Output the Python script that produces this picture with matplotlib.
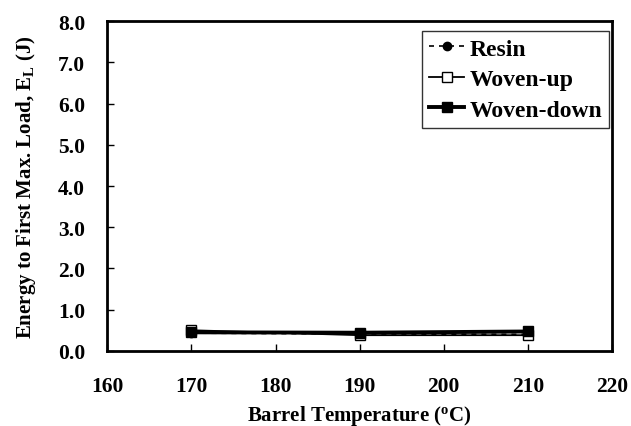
import matplotlib
matplotlib.use("Agg")
import matplotlib.pyplot as plt

# barrel temperature (deg C)
temps = [170, 190, 210]

# energy to first max load (J)
resin = [0.43, 0.41, 0.40]
woven_up = [0.50, 0.38, 0.38]
woven_down = [0.45, 0.44, 0.47]

x_ticks = [160, 170, 180, 190, 200, 210, 220]
y_ticks = [0.0, 1.0, 2.0, 3.0, 4.0, 5.0, 6.0, 7.0, 8.0]

plt.rcParams["font.family"] = ["Liberation Serif", "DejaVu Serif"]
plt.rcParams["font.weight"] = "bold"
plt.rcParams["mathtext.fontset"] = "custom"
plt.rcParams["mathtext.rm"] = "Liberation Serif:bold"
plt.rcParams["mathtext.it"] = "Liberation Serif:bold"

fig = plt.figure(figsize=(6.31, 4.27), dpi=100)
ax = fig.add_axes([0.170, 0.176, 0.800, 0.772])

ax.plot(temps, resin, linestyle=(0, (3, 3)), color="black", linewidth=1.2,
        marker="o", markersize=6, markerfacecolor="black", label="Resin")
ax.plot(temps, woven_up, linestyle="-", color="black", linewidth=1.3,
        marker="s", markersize=7, markerfacecolor="white", label="Woven-up")
ax.plot(temps, woven_down, linestyle="-", color="black", linewidth=2.8,
        marker="s", markersize=7, markerfacecolor="black", label="Woven-down")

ax.set_xlim(160, 220)
ax.set_ylim(0, 8)
ax.set_xticks(x_ticks)
ax.set_yticks(y_ticks)
ax.set_xticklabels([str(t) for t in x_ticks], fontsize=15.5, fontweight="bold")
ax.set_yticklabels([f"{t:.1f}" for t in y_ticks], fontsize=15.5, fontweight="bold")
ax.tick_params(direction="in", length=5, width=1)
ax.tick_params(axis="x", pad=18)
ax.tick_params(axis="y", pad=16)

for sp in ax.spines.values():
    sp.set_linewidth(2)

ax.set_xlabel("Barrel Temperature ($^o$C)", fontsize=15, fontweight="bold", labelpad=5)
ax.set_ylabel("Energy to First Max. Load, E$_L$ (J)", fontsize=15, fontweight="bold", labelpad=14)

leg = ax.legend(loc="upper right", bbox_to_anchor=(0.994, 0.97), borderaxespad=0,
                fontsize=17, frameon=True, fancybox=False, edgecolor="black",
                handlelength=1.5, handletextpad=0.2, borderpad=0.3, labelspacing=0.38)
leg.get_frame().set_linewidth(1)
for t in leg.get_texts():
    t.set_fontweight("bold")

fig.savefig("out.png", dpi=100)
